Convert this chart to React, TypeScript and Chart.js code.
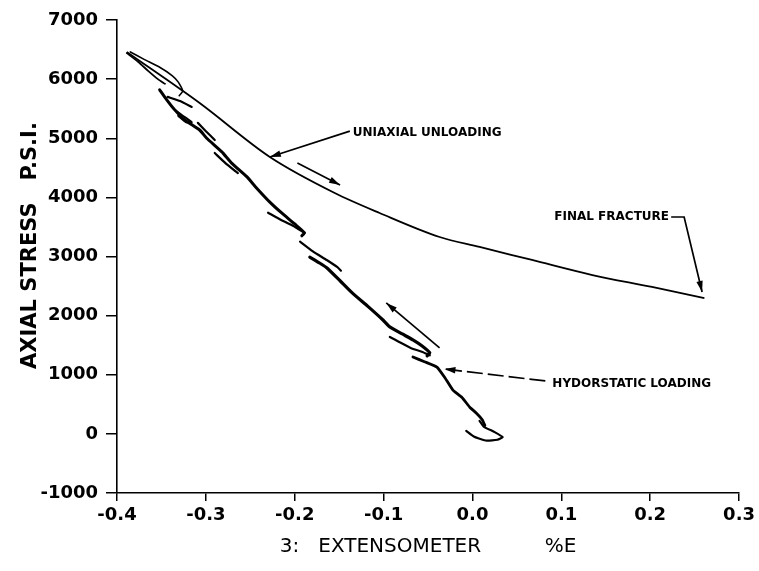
import React, { useEffect, useRef } from "react";
import { Chart, registerables } from "chart.js";

Chart.register(...registerables);

// ---- axes ----
const X_TICKS = [-0.4, -0.3, -0.2, -0.1, 0.0, 0.1, 0.2, 0.3];
const Y_TICKS = [-1000, 0, 1000, 2000, 3000, 4000, 5000, 6000, 7000];
const X_TITLE = "3:   EXTENSOMETER          %E";
const Y_TITLE = "   AXIAL STRESS   P.S.I.";

// ---- uniaxial unloading curve ----
const unloadingStrain = [-0.389, -0.307, -0.228, -0.155, -0.1045, -0.037, 0.008, 0.067, 0.135, 0.202, 0.261];
const unloadingStress = [6460, 5596, 4683, 4074, 3736, 3330, 3161, 2941, 2687, 2485, 2298];

// ---- hydrostatic loading trace (pen strokes, strain %, stress psi) ----
const tipLower = [[-0.389, 6440], [-0.376, 6290], [-0.365, 6140], [-0.354, 6000], [-0.346, 5920]];
const tipUpper = [[-0.385, 6460], [-0.369, 6330], [-0.352, 6200], [-0.338, 6060], [-0.331, 5950], [-0.326, 5800], [-0.330, 5720]];
const traceUpper = [[-0.352, 5820], [-0.344, 5650], [-0.335, 5480], [-0.324, 5310], [-0.307, 5140], [-0.299, 5000], [-0.282, 4770], [-0.271, 4580], [-0.254, 4350], [-0.243, 4160], [-0.228, 3920], [-0.215, 3740], [-0.200, 3550], [-0.189, 3400], [-0.192, 3350]];
const strandA = [[-0.343, 5700], [-0.329, 5630], [-0.316, 5530]];
const loopB = [[-0.335, 5480], [-0.326, 5380], [-0.316, 5270], [-0.322, 5270], [-0.331, 5380]];
const strandC = [[-0.309, 5260], [-0.300, 5120], [-0.290, 4970]];
const strandD = [[-0.290, 4750], [-0.278, 4580], [-0.264, 4410]];
const strandE = [[-0.230, 3740], [-0.217, 3630], [-0.202, 3520], [-0.189, 3400]];
const strandF = [[-0.194, 3250], [-0.180, 3090], [-0.164, 2940], [-0.152, 2820], [-0.148, 2760]];
const traceMiddle = [[-0.183, 2990], [-0.172, 2890], [-0.164, 2810], [-0.149, 2590], [-0.135, 2380], [-0.118, 2160], [-0.101, 1930], [-0.093, 1810], [-0.079, 1690], [-0.067, 1590], [-0.057, 1490], [-0.048, 1370], [-0.051, 1320]];
const strandG = [[-0.093, 1640], [-0.082, 1550], [-0.069, 1450], [-0.057, 1390], [-0.048, 1330]];
const traceLower = [[-0.067, 1300], [-0.054, 1220], [-0.040, 1130], [-0.031, 950], [-0.022, 740], [-0.012, 620], [-0.003, 450], [0.0045, 350], [0.011, 240], [0.014, 140]];
const hookStart = [[-0.007, 50], [0.002, -50], [0.016, -115], [0.028, -100], [0.034, -55], [0.025, 30], [0.013, 120], [0.008, 220]];

const loadingStrands = [tipLower, tipUpper, traceUpper, strandA, loopB, strandC, strandD, strandE, strandF, traceMiddle, strandG, traceLower, hookStart];
const loadingWidths = [1.8, 1.6, 3, 2.2, 2.2, 2.2, 2.2, 2.2, 2.2, 3.2, 2.2, 2.8, 2.2];

// ---- annotations ----
const noteTexts = ["UNIAXIAL UNLOADING", "FINAL FRACTURE", "HYDORSTATIC LOADING"];
const noteX = [-0.1348, 0.0921, 0.0899];
const noteY = [5089, 3668, 844];

const arrowUniaxial = [[-0.138, 5120], [-0.228, 4683]];
const arrowUnloadDir = [[-0.197, 4582], [-0.149, 4210]];
const arrowFracture = [[0.2236, 3668], [0.2382, 3668], [0.2584, 2400]];
const arrowHydro = [[0.082, 895], [-0.0315, 1098]];
const arrowLoadDir = [[-0.037, 1453], [-0.097, 2214]];
const arrowPaths = [arrowUniaxial, arrowUnloadDir, arrowFracture, arrowHydro, arrowLoadDir];
const arrowDashed = [false, false, false, true, false];

const toPoints = (arr: number[][]) => arr.map(([x, y]) => ({ x, y }));

const annotationPlugin = {
  id: "annotations",
  afterDatasetsDraw(chart: any) {
    const { ctx, scales } = chart;
    const xs = scales.x;
    const ys = scales.y;
    ctx.save();
    ctx.fillStyle = "#000";
    ctx.strokeStyle = "#000";
    ctx.font = "bold 12px 'DejaVu Sans'";
    ctx.textBaseline = "middle";
    ctx.textAlign = "left";
    noteTexts.forEach((t, i) => {
      ctx.fillText(t, xs.getPixelForValue(noteX[i]), ys.getPixelForValue(noteY[i]));
    });
    arrowPaths.forEach((path, i) => {
      const pts = path.map(([x, y]) => [xs.getPixelForValue(x), ys.getPixelForValue(y)]);
      ctx.lineWidth = 1.7;
      ctx.setLineDash(arrowDashed[i] ? [16, 5] : []);
      ctx.beginPath();
      pts.forEach(([px, py], k) => (k === 0 ? ctx.moveTo(px, py) : ctx.lineTo(px, py)));
      ctx.stroke();
      ctx.setLineDash([]);
      const [ex, ey] = pts[pts.length - 1];
      const [sx, sy] = pts[pts.length - 2];
      const ang = Math.atan2(ey - sy, ex - sx);
      const len = 11;
      const hw = 3.2;
      ctx.beginPath();
      ctx.moveTo(ex, ey);
      ctx.lineTo(ex - len * Math.cos(ang) + hw * Math.sin(ang), ey - len * Math.sin(ang) - hw * Math.cos(ang));
      ctx.lineTo(ex - len * Math.cos(ang) - hw * Math.sin(ang), ey - len * Math.sin(ang) + hw * Math.cos(ang));
      ctx.closePath();
      ctx.fill();
    });
    ctx.restore();
  },
};

export default function App() {
  const ref = useRef<HTMLCanvasElement>(null);

  useEffect(() => {
    if (!ref.current) return;
    Chart.defaults.font.family = "'DejaVu Sans'";
    Chart.defaults.color = "#000";

    const datasets: any[] = [
      {
        label: "Uniaxial unloading",
        data: unloadingStrain.map((x, i) => ({ x, y: unloadingStress[i] })),
        borderColor: "#000",
        borderWidth: 1.8,
        pointRadius: 0,
        showLine: true,
        cubicInterpolationMode: "monotone",
      },
      ...loadingStrands.map((s, i) => ({
        label: "Hydrostatic loading " + i,
        data: toPoints(s),
        borderColor: "#000",
        borderWidth: loadingWidths[i],
        pointRadius: 0,
        showLine: true,
        tension: 0.15,
        borderCapStyle: "round",
        borderJoinStyle: "round",
      })),
    ];

    const chart = new Chart(ref.current, {
      type: "scatter",
      data: { datasets },
      plugins: [annotationPlugin],
      options: {
        animation: false,
        responsive: false,
        maintainAspectRatio: false,
        layout: { padding: { left: 0, top: 20, right: 19, bottom: 0 } },
        plugins: { legend: { display: false }, tooltip: { enabled: false } },
        scales: {
          x: {
            type: "linear",
            min: -0.4,
            max: 0.3,
            afterBuildTicks: (scale: any) => {
              scale.ticks = X_TICKS.map((v) => ({ value: v }));
            },
            afterFit: (scale: any) => {
              scale.height = 78;
            },
            ticks: {
              padding: 4,
              font: { size: 18, weight: "bold" },
              color: "#000",
              callback: (v: any) => (Math.abs(Number(v)) < 1e-9 ? "0.0" : Number(v).toFixed(1)),
            },
            grid: { display: true, drawOnChartArea: false, drawTicks: true, tickLength: 8, color: "#000", lineWidth: 1.5 },
            border: { display: true, color: "#000", width: 1.6 },
            title: {
              display: true,
              text: X_TITLE,
              font: { size: 20, weight: "normal" },
              color: "#000",
              padding: { top: 0, bottom: 12 },
            },
          },
          y: {
            type: "linear",
            min: -1000,
            max: 7000,
            afterBuildTicks: (scale: any) => {
              scale.ticks = Y_TICKS.map((v) => ({ value: v }));
            },
            afterFit: (scale: any) => {
              scale.width = 117;
            },
            ticks: {
              padding: 8,
              font: { size: 18, weight: "bold" },
              color: "#000",
              callback: (v: any) => String(v),
            },
            grid: { display: true, drawOnChartArea: false, drawTicks: true, tickLength: 11, color: "#000", lineWidth: 1.5 },
            border: { display: true, color: "#000", width: 1.6 },
            title: {
              display: true,
              text: Y_TITLE,
              font: { size: 21, weight: "bold" },
              color: "#000",
              padding: { top: 18, bottom: 0 },
            },
          },
        },
      },
    });
    return () => chart.destroy();
  }, []);

  return (
    <div style={{ position: "fixed", left: 0, top: 0, width: 759, height: 571, background: "#fff" }}>
      <canvas ref={ref} width={759} height={571} style={{ width: 759, height: 571, display: "block" }} />
    </div>
  );
}
